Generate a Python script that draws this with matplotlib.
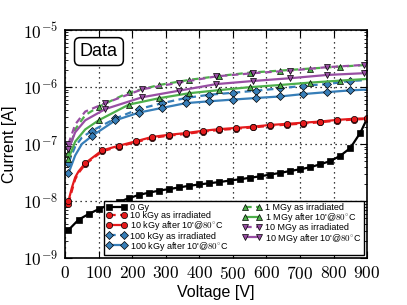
import matplotlib
matplotlib.use('Agg')
import matplotlib.pyplot as plt
import matplotlib.ticker as mticker

plt.rcParams['mathtext.fontset'] = 'cm'
plt.rcParams['font.family'] = ['Liberation Sans', 'DejaVu Sans']

# 0 Gy
v_0 = [10, 40, 70, 100, 130, 160, 190, 220, 250, 280, 310, 340, 370, 400, 430,
       460, 490, 520, 550, 580, 610, 640, 670, 700, 730, 760, 790, 820, 850, 880, 900]
i_0 = [3.1e-9, 4.7e-9, 5.9e-9, 7.2e-9, 8.5e-9, 9.6e-9, 1.12e-8, 1.28e-8, 1.4e-8,
       1.52e-8, 1.62e-8, 1.73e-8, 1.85e-8, 1.95e-8, 2.05e-8, 2.15e-8, 2.28e-8,
       2.4e-8, 2.55e-8, 2.7e-8, 2.9e-8, 3.1e-8, 3.35e-8, 3.6e-8, 3.9e-8, 4.4e-8,
       5.0e-8, 6.2e-8, 8.5e-8, 1.58e-7, 2.8e-7]

# 10 kGy
v_10k = [10, 20, 30, 40, 60, 110, 160, 210, 260, 310, 360, 410, 460, 510, 560,
         610, 660, 710, 760, 810, 860, 900]
i_10k_irr = [9.0e-9, 1.5e-8, 2.4e-8, 3.1e-8, 4.4e-8, 7.4e-8, 9.0e-8, 1.07e-7,
             1.28e-7, 1.4e-7, 1.5e-7, 1.64e-7, 1.76e-7, 1.85e-7, 1.95e-7, 2.08e-7,
             2.18e-7, 2.28e-7, 2.4e-7, 2.56e-7, 2.68e-7, 2.75e-7]
i_10k_ann = [1.0e-8, 1.7e-8, 2.6e-8, 3.3e-8, 4.6e-8, 7.7e-8, 9.3e-8, 1.11e-7,
             1.33e-7, 1.45e-7, 1.55e-7, 1.7e-7, 1.82e-7, 1.91e-7, 2.01e-7, 2.15e-7,
             2.25e-7, 2.36e-7, 2.47e-7, 2.64e-7, 2.76e-7, 2.82e-7]

# 100 kGy
v_100k = [10, 30, 50, 80, 150, 220, 290, 360, 430, 500, 570, 640, 710, 780, 850, 900]
i_100k_irr = [4.7e-8, 9.0e-8, 1.3e-7, 1.7e-7, 2.8e-7, 4.1e-7, 5.2e-7, 6.4e-7,
              7.3e-7, 7.9e-7, 8.6e-7, 9.4e-7, 1.05e-6, 1.12e-6, 1.27e-6, 1.32e-6]
i_100k_ann = [3.05e-8, 6.3e-8, 1.0e-7, 1.38e-7, 2.6e-7, 3.55e-7, 4.3e-7, 5.2e-7,
              5.6e-7, 6.0e-7, 6.4e-7, 6.8e-7, 7.5e-7, 8.1e-7, 8.7e-7, 9.0e-7]

# 1 MGy
v_1m = [10, 30, 60, 100, 190, 280, 370, 460, 550, 640, 730, 820, 900]
i_1m_irr = [7.0e-8, 1.8e-7, 3.2e-7, 4.5e-7, 8.0e-7, 1.08e-6, 1.33e-6, 1.56e-6,
            1.78e-6, 1.93e-6, 2.1e-6, 2.27e-6, 2.43e-6]
i_1m_ann = [5.5e-8, 1.1e-7, 1.8e-7, 2.6e-7, 4.9e-7, 6.34e-7, 7.76e-7, 8.8e-7,
            9.9e-7, 1.08e-6, 1.19e-6, 1.29e-6, 1.38e-6]

# 10 MGy
v_10m = [10, 30, 60, 120, 230, 340, 450, 560, 670, 780, 890]
i_10m_irr = [1.0e-7, 2.2e-7, 3.7e-7, 5.2e-7, 9.1e-7, 1.19e-6, 1.53e-6, 1.74e-6,
             1.93e-6, 2.22e-6, 2.43e-6]
i_10m_ann = [8.0e-8, 1.6e-7, 2.6e-7, 4.1e-7, 6.6e-7, 8.6e-7, 1.12e-6, 1.27e-6,
             1.42e-6, 1.62e-6, 1.74e-6]

labels = ['0 Gy',
          '10 kGy as irradiated', "10 kGy after 10'@$80^{\\circ}$C",
          '100 kGy as irradiated', "100 kGy after 10'@$80^{\\circ}$C",
          '1 MGy as irradiated', "1 MGy after 10'@$80^{\\circ}$C",
          '10 MGy as irradiated', "10 MGy after 10'@$80^{\\circ}$C"]

y_ticks = [1e-9, 1e-8, 1e-7, 1e-6, 1e-5]
x_ticks = list(range(0, 901, 100))

red = '#e41a1c'
blue = '#377eb8'
green = '#4daf4a'
purple = '#984ea3'

fig = plt.figure(figsize=(4.07, 3.05), dpi=100)
ax = fig.add_axes([0.16, 0.154, 0.742, 0.748])

dash = (0, (3, 2))
kw = dict(lw=1.6, mec='k', mew=0.5)

ax.plot(v_0, i_0, color='k', marker='s', ms=4, markevery=list(range(30)),
        label=labels[0], **kw)
mk10 = [0] + list(range(4, 22))
ax.plot(v_10k, i_10k_irr, color=red, ls=dash, marker='o', ms=4.5,
        markevery=mk10, label=labels[1], **kw)
ax.plot(v_10k, i_10k_ann, color=red, ls='-', marker='o', ms=4.5,
        markevery=mk10, label=labels[2], **kw)
mk100 = [0] + list(range(3, 15))
ax.plot(v_100k, i_100k_irr, color=blue, ls=dash, marker='D', ms=4,
        markevery=mk100, label=labels[3], **kw)
ax.plot(v_100k, i_100k_ann, color=blue, ls='-', marker='D', ms=4,
        markevery=mk100, label=labels[4], **kw)
mk1m = [0] + list(range(3, 12))
ax.plot(v_1m, i_1m_irr, color=green, ls=dash, marker='^', ms=4.5,
        markevery=mk1m, label=labels[5], **kw)
ax.plot(v_1m, i_1m_ann, color=green, ls='-', marker='^', ms=4.5,
        markevery=mk1m, label=labels[6], **kw)
mk10m = [0] + list(range(3, 11))
ax.plot(v_10m, i_10m_irr, color=purple, ls=dash, marker='v', ms=4.5,
        markevery=mk10m, label=labels[7], **kw)
ax.plot(v_10m, i_10m_ann, color=purple, ls='-', marker='v', ms=4.5,
        markevery=mk10m, label=labels[8], **kw)

ax.set_yscale('log')
ax.set_xlim(0, 900)
ax.set_ylim(1e-9, 1e-5)
ax.set_xticks(x_ticks)
ax.set_xticklabels(['$%d$' % v for v in x_ticks])
ax.set_yticks(y_ticks)
ax.set_yticklabels(['$10^{%d}$' % round(mticker.np.log10(v)) for v in y_ticks])
ax.yaxis.set_minor_locator(mticker.LogLocator(base=10, subs=range(2, 10), numticks=20))
ax.yaxis.set_minor_formatter(mticker.NullFormatter())
ax.tick_params(which='both', direction='in', top=True, right=True, labelsize=12.5)
ax.tick_params(which='major', length=5, pad=5)
ax.tick_params(which='minor', length=2.5)
ax.grid(True, which='major', color='k', ls=(0, (1, 3)), lw=0.9)
for s in ax.spines.values():
    s.set_linewidth(1.2)

ax.set_xlabel('Voltage [V]', fontsize=11.5, labelpad=2)
ax.set_ylabel('Current [A]', fontsize=11.5, labelpad=4)

ax.text(0.112, 0.905, 'Data', transform=ax.transAxes, fontsize=13, va='center',
        ha='center', bbox=dict(boxstyle='round,pad=0.3', fc='w', ec='k', lw=1.1))

leg = ax.legend(loc='lower right', ncol=2, fontsize=6.5, numpoints=2,
                fancybox=False, framealpha=1, edgecolor='k', handlelength=2.2,
                borderaxespad=0.3, labelspacing=-0.1, columnspacing=1.5,
                handletextpad=0.35, borderpad=0.3)
leg.get_frame().set_linewidth(1)

fig.savefig('out.png', dpi=100)
